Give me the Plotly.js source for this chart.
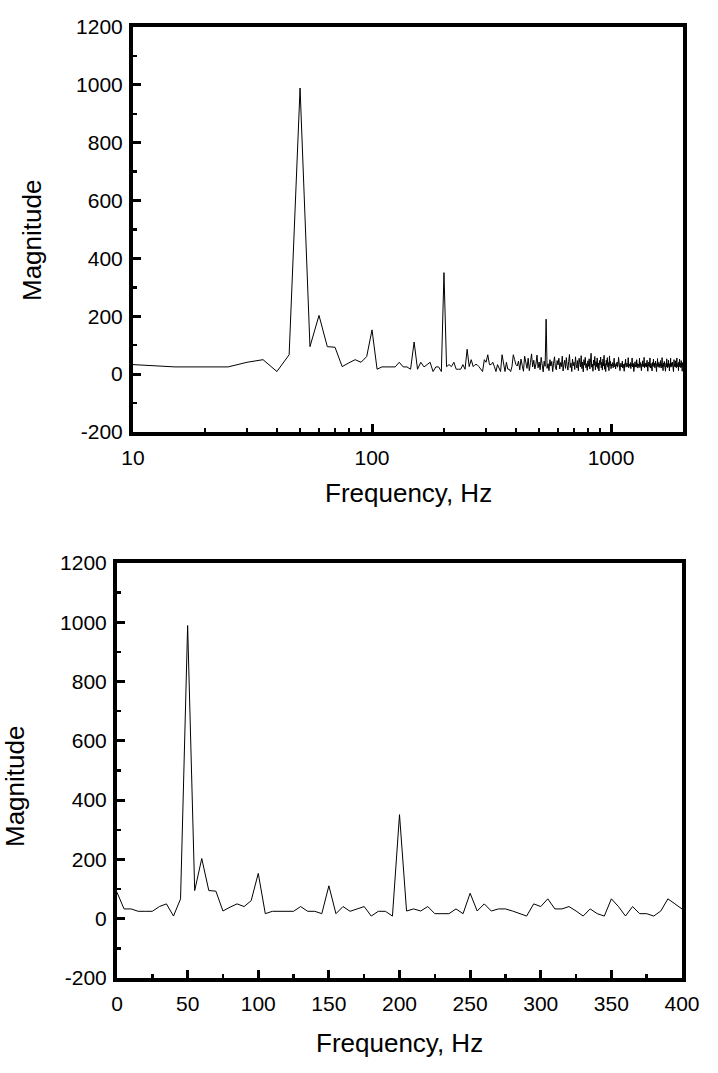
<!DOCTYPE html>
<html>
<head>
<meta charset="utf-8">
<script src="https://cdn.plot.ly/plotly-3.0.1.min.js"></script>
<style>
  html, body { margin: 0; padding: 0; background: #fff; }
  #chart { width: 718px; height: 1073px; }
</style>
</head>
<body>
<div id="chart"></div>
<script>
// FFT bin spacing (Hz) and start frequencies
const binStepHz = 5;
const lowStartHz = 0;      // magLow covers 0 ... 400 Hz
const highStartHz = 405;   // magHigh covers 405 ... 2000 Hz
const logPlotStartHz = 10; // top (log) panel starts at 10 Hz

// Magnitudes 0 ... 400 Hz
const magLow = [
  89, 33, 33, 25, 25, 25, 41, 50, 9, 67,
  989, 95, 203, 95, 93, 26, 39, 50, 41, 61,
  153, 17, 25, 25, 25, 25, 41, 25, 25, 17,
  111, 17, 41, 25, 33, 41, 9, 25, 25, 9,
  351, 26, 33, 26, 41, 17, 17, 17, 33, 17,
  86, 26, 50, 26, 33, 33, 26, 17, 9, 50,
  41, 67, 33, 33, 41, 26, 9, 33, 17, 9,
  67, 41, 9, 41, 17, 17, 9, 26, 67, 50,
  33
];

// Magnitudes 405 ... 2000 Hz (estimated from the upper, log-scaled panel)
const magHigh = [
  28, 45, 15, 52, 30, 10, 62, 38, 20, 55, 12, 40, 70, 25, 48, 18, 35, 66, 22, 42,
  15, 58, 30, 8, 45, 27, 190, 20, 36, 12, 50, 28, 44, 9, 38, 60, 24, 15, 47, 32,
  55, 18, 40, 26, 62, 11, 35, 48, 20, 57, 30, 14, 44, 68, 23, 38, 9, 52, 29, 41,
  16, 60, 33, 21, 47, 12, 55, 37, 25, 64, 19, 42, 8, 50, 31, 58, 22, 36, 13, 46,
  27, 53, 18, 40, 72, 24, 35, 10, 49, 30, 61, 15, 43, 26, 56, 20, 38, 11, 47, 33,
  59, 22, 41, 14, 52, 28, 65, 17, 36, 9, 48, 31, 57, 24, 40, 12, 63, 29, 44, 19,
  34, 28, 40, 22, 31, 55, 26, 33, 18, 37, 29, 42, 24, 30, 58, 27, 35, 12, 32, 38,
  25, 30, 45, 21, 34, 28, 10, 36, 31, 52, 24, 29, 38, 26, 33, 57, 22, 35, 30, 27,
  40, 19, 33, 29, 56, 25, 31, 37, 9, 34, 28, 43, 26, 32, 24, 50, 30, 36, 21, 29,
  35, 27, 55, 23, 31, 40, 28, 12, 34, 30, 46, 25, 33, 29, 58, 22, 36, 31, 27, 39,
  24, 32, 48, 28, 10, 35, 30, 42, 26, 34, 56, 21, 31, 37, 27, 33, 11, 40, 29, 35,
  52, 26, 31, 38, 22, 30, 45, 28, 34, 9, 36, 30, 54, 25, 32, 28, 41, 23, 35, 30,
  27, 47, 33, 21, 36, 29, 57, 24, 31, 12, 38, 30, 26, 44, 32, 28, 35, 10, 33, 39,
  25, 53, 30, 34, 22, 37, 29, 48, 26, 31, 11, 36, 33, 28, 55, 24, 32, 38, 27, 30,
  42, 23, 35, 29, 9, 33, 50, 27, 31, 36, 25, 46, 30, 34, 22, 38, 56, 28, 32, 26,
  37, 30, 12, 41, 28, 34, 52, 25, 33, 30, 38, 22, 47, 31, 27, 35, 10, 40, 32, 36
];

// Tick labels
const logTickVals = [10, 100, 1000];
const logTickText = ['10', '100', '1000'];
const logMinorVals = [20, 30, 40, 50, 60, 70, 80, 90, 200, 300, 400, 500, 600, 700, 800, 900, 2000];
const magTickVals = [-200, 0, 200, 400, 600, 800, 1000, 1200];
const magTickText = ['-200', '0', '200', '400', '600', '800', '1000', '1200'];
const titleX = 'Frequency, Hz';
const titleY = 'Magnitude';

// Frequency axis of each bin
const freqLow = magLow.map((_, i) => lowStartHz + i * binStepHz);
const freqHigh = magHigh.map((_, i) => highStartHz + i * binStepHz);

const allFreq = freqLow.concat(freqHigh);
const allMag = magLow.concat(magHigh);
const topFreq = [], topMag = [];
allFreq.forEach((f, i) => { if (f >= logPlotStartHz) { topFreq.push(f); topMag.push(allMag[i]); } });

const font = 'Liberation Sans, Arial, sans-serif';
const tickFont = { family: font, size: 21, color: '#000' };
const lineStyle = { color: '#000', width: 1 };

const traces = [
  { x: topFreq, y: topMag, xaxis: 'x', yaxis: 'y', type: 'scatter', mode: 'lines', line: lineStyle, hoverinfo: 'skip' },
  { x: freqLow, y: magLow, xaxis: 'x2', yaxis: 'y2', type: 'scatter', mode: 'lines', line: lineStyle, hoverinfo: 'skip' }
];

const W = 718, H = 1073;
const FRAME = 4;
const yAxisCommon = {
  range: [-200, 1200],
  tickmode: 'array', tickvals: magTickVals, ticktext: magTickText,
  ticks: 'inside', ticklen: 8, tickwidth: 3, tickcolor: '#000',
  minor: { ticks: 'inside', ticklen: 4, tickwidth: 2.5, tickcolor: '#000', tickmode: 'linear', tick0: -100, dtick: 200 },
  showline: true, linecolor: '#000', linewidth: FRAME, mirror: true,
  showgrid: false, zeroline: false, tickfont: tickFont, automargin: false,
  ticklabelstandoff: 2
};

const layout = {
  width: W, height: H,
  margin: { l: 0, r: 0, t: 0, b: 0 },
  paper_bgcolor: '#fff', plot_bgcolor: '#fff',
  showlegend: false,
  xaxis: {
    type: 'log', range: [1, Math.log10(2000)],
    domain: [133 / W, 683 / W], anchor: 'y',
    tickmode: 'array', tickvals: logTickVals, ticktext: logTickText,
    ticks: 'inside', ticklen: 8, tickwidth: 3, tickcolor: '#000',
    minor: { ticks: 'inside', ticklen: 4, tickwidth: 2.5, tickcolor: '#000', tickmode: 'array', tickvals: logMinorVals },
    showline: true, linecolor: '#000', linewidth: FRAME, mirror: true,
    showgrid: false, zeroline: false, tickfont: tickFont, automargin: false,
    ticklabelstandoff: 4
  },
  yaxis: Object.assign({}, yAxisCommon, { domain: [1 - 432 / H, 1 - 27 / H], anchor: 'x' }),
  xaxis2: {
    range: [0, 400], dtick: 50, tick0: 0,
    domain: [117 / W, 682 / W], anchor: 'y2',
    ticks: 'inside', ticklen: 8, tickwidth: 3, tickcolor: '#000',
    minor: { ticks: 'inside', ticklen: 4, tickwidth: 2.5, tickcolor: '#000', dtick: 25 },
    showline: true, linecolor: '#000', linewidth: FRAME, mirror: true,
    showgrid: false, zeroline: false, tickfont: tickFont, automargin: false,
    ticklabelstandoff: 4
  },
  yaxis2: Object.assign({}, yAxisCommon, { domain: [1 - 978 / H, 1 - 563 / H], anchor: 'x2' }),
  annotations: [
    { text: titleX, xref: 'paper', yref: 'paper', x: 408 / W, y: 1 - 493 / H, xanchor: 'center', yanchor: 'middle', showarrow: false, font: { family: font, size: 26, color: '#000' } },
    { text: titleY, xref: 'paper', yref: 'paper', x: 32 / W, y: 1 - 241 / H, xanchor: 'center', yanchor: 'middle', textangle: -90, showarrow: false, font: { family: font, size: 26, color: '#000' } },
    { text: titleX, xref: 'paper', yref: 'paper', x: 399 / W, y: 1 - 1043 / H, xanchor: 'center', yanchor: 'middle', showarrow: false, font: { family: font, size: 26, color: '#000' } },
    { text: titleY, xref: 'paper', yref: 'paper', x: 15 / W, y: 1 - 787 / H, xanchor: 'center', yanchor: 'middle', textangle: -90, showarrow: false, font: { family: font, size: 26, color: '#000' } }
  ]
};

Plotly.newPlot('chart', traces, layout, { staticPlot: true, displayModeBar: false });
</script>
</body>
</html>
